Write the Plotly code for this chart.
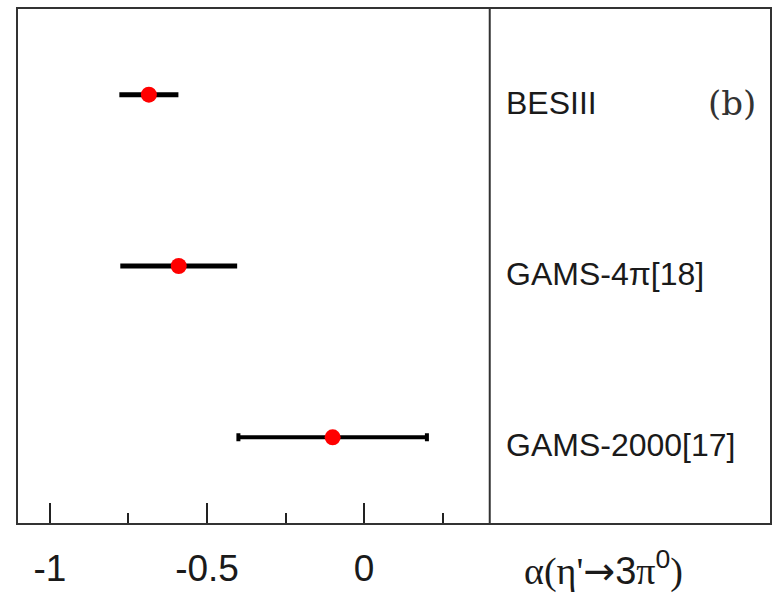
import plotly.graph_objects as go

# Data
experiments = ["BESIII", "GAMS-4π[18]", "GAMS-2000[17]"]
alpha_values = [-0.685, -0.59, -0.10]
alpha_errors = [0.094, 0.186, 0.30]
row_positions = [3, 2, 1]
tick_values = [-1, -0.5, 0]
tick_labels = ["-1", "-0.5", "0"]
minor_tick_values = [-0.75, -0.25, 0.25]

fig = go.Figure()

# BESIII and GAMS-4pi: bars without caps
idx_nocap = [0, 1]
fig.add_trace(go.Scatter(
    x=[alpha_values[i] for i in idx_nocap],
    y=[row_positions[i] for i in idx_nocap],
    mode="markers",
    marker=dict(color="#ff0000", size=16, line=dict(width=0)),
    error_x=dict(type="data", symmetric=True,
                 array=[alpha_errors[i] for i in idx_nocap],
                 color="black", thickness=5, width=0),
    showlegend=False,
))
# GAMS-2000: bar with small caps
idx_cap = [2]
fig.add_trace(go.Scatter(
    x=[alpha_values[i] for i in idx_cap],
    y=[row_positions[i] for i in idx_cap],
    mode="markers",
    marker=dict(color="#ff0000", size=16, line=dict(width=0)),
    error_x=dict(type="data", symmetric=True,
                 array=[alpha_errors[i] for i in idx_cap],
                 color="black", thickness=4, width=4),
    showlegend=False,
))

# Experiment labels
for name, yv in zip(experiments, row_positions):
    fig.add_annotation(
        x=0.444, y=yv, xref="x", yref="y",
        text=name, showarrow=False, xanchor="left", yanchor="middle",
        yshift=-8,
        font=dict(family="Liberation Sans, Arial", size=32, color="#1a1a1a"),
    )

# (b) label
fig.add_annotation(
    x=1.17, y=2.95, xref="x", yref="y", text="(b)", showarrow=False,
    xanchor="center", yanchor="middle",
    font=dict(family="DejaVu Serif", size=34, color="#333333"),
)

# Axis title
fig.add_annotation(
    x=0.778, y=-0.088, xref="paper", yref="paper",
    text="<span style='font-family:Liberation Serif'>α(η'</span><span style='font-family:DejaVu Sans'>→</span>3<span style='font-family:Liberation Serif'>π</span><sup>0</sup><span style='font-family:Liberation Serif'>)</span>",
    showarrow=False, xanchor="center", yanchor="middle",
    font=dict(family="Liberation Sans, Arial", size=38, color="#1a1a1a"),
)

# Vertical separator
fig.add_shape(type="line", x0=0.4, x1=0.4, y0=0, y1=1, xref="x", yref="paper",
              line=dict(color="#333333", width=2))

fig.update_xaxes(
    range=[-1.1016, 1.2921],
    tickmode="array", tickvals=tick_values, ticktext=tick_labels,
    ticks="inside", ticklen=20, tickwidth=2, tickcolor="#222222",
    minor=dict(tickmode="array", tickvals=minor_tick_values, ticks="inside",
               ticklen=10, tickwidth=2, tickcolor="#222222", showgrid=False),
    showline=True, linewidth=2, linecolor="#333333", mirror=True,
    showgrid=False, zeroline=False,
    tickfont=dict(family="Liberation Sans, Arial", size=37, color="#1a1a1a"),
    ticklabelstandoff=12,
)
fig.update_yaxes(
    range=[0.5, 3.5], showticklabels=False, ticks="",
    showline=True, linewidth=2, linecolor="#333333", mirror=True,
    showgrid=False, zeroline=False,
)

fig.update_layout(
    width=776, height=601,
    margin=dict(l=18, r=4, t=9, b=78),
    plot_bgcolor="white", paper_bgcolor="white",
)

fig.write_html("out.html")
